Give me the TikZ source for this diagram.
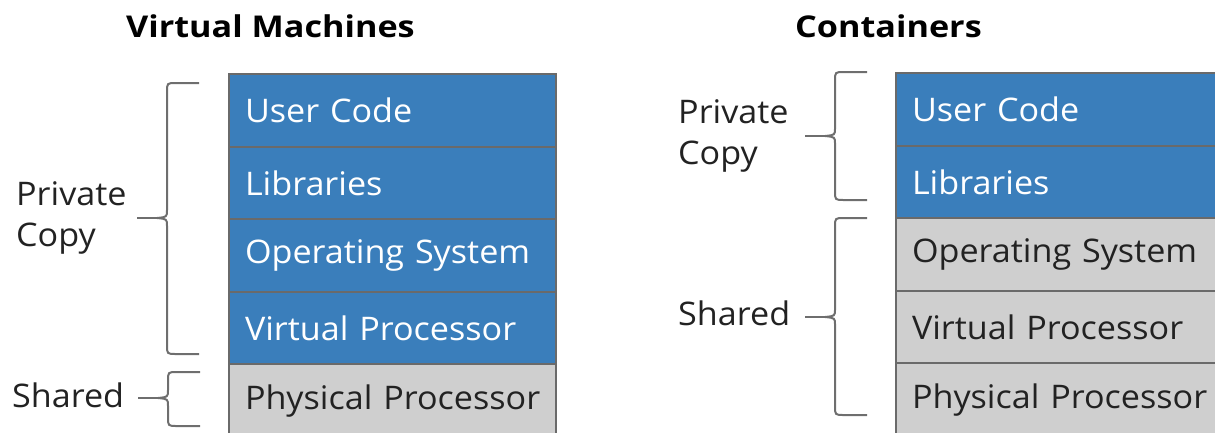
\documentclass[tikz,border=0pt]{standalone}
\usepackage{fontspec}
\setmainfont{Open Sans}[FakeStretch=1.05]
\newfontfamily\ttlfont{Open Sans}[FakeStretch=1.14]
\definecolor{blu}{HTML}{3A7EBB}
\definecolor{gry}{HTML}{CFCFCF}
\definecolor{edgec}{HTML}{6A6A6A}
\definecolor{brc}{HTML}{6E6E6E}
\definecolor{txt}{HTML}{222222}
\newcommand\mybrace[4]{%
  \draw[braceline] ({#1+32},#2) -- ({#1+9},#2) .. controls (#1,#2) .. (#1,{#2+9}) -- (#1,{#4-8}) .. controls (#1,{#4-1}) .. ({#1-10},#4);
  \draw[braceline] ({#1+32},#3) -- ({#1+9},#3) .. controls (#1,#3) .. (#1,{#3-9}) -- (#1,{#4+8}) .. controls (#1,{#4+1}) .. ({#1-10},#4);
  \draw[braceline] ({#1-10},#4) -- ({#1-30},#4);
}
\begin{document}
\begin{tikzpicture}[x=1pt,y=-1pt,
  layer/.style={draw=edgec, line width=2pt, anchor=north west, minimum height=72.6pt,
    text width=295pt, inner xsep=16pt, inner ysep=0pt, align=left,
    font=\fontsize{32.5}{38}\selectfont},
  bluebox/.style={layer, fill=blu, text=white},
  graybox/.style={layer, fill=gry, text=txt},
  lbl/.style={inner sep=0pt, align=left, text=txt, font=\fontsize{32.5}{41.5}\selectfont},
  ttl/.style={inner sep=0pt, anchor=base west, text=black, font=\fontsize{30}{36}\ttlfont\bfseries},
  braceline/.style={draw=brc, line width=2pt}]
\useasboundingbox (0,0) rectangle (1215,432);
\clip (0,0) rectangle (1215,432);
% titles
\node[ttl] (t1) at (126,37) {Virtual Machines};
\node[ttl] (t2) at (795,37) {Containers};
% left stack
\node[bluebox] (l1) at (228,73) {\mbox{User Code}};
\node[bluebox] (l2) at (228,145.6) {\mbox{Libraries}};
\node[bluebox] (l3) at (228,218.2) {\mbox{Operating System}};
\node[bluebox] (l4) at (228,290.8) {\mbox{Virtual Processor}};
\node[graybox] (l5) at (228,363.4) {\mbox{Physical Processor}};
% right stack
\node[bluebox] (r1) at (895,72) {\mbox{User Code}};
\node[bluebox] (r2) at (895,144.6) {\mbox{Libraries}};
\node[graybox] (r3) at (895,217.2) {\mbox{Operating System}};
\node[graybox] (r4) at (895,289.8) {\mbox{Virtual Processor}};
\node[graybox] (r5) at (895,362.4) {\mbox{Physical Processor}};
% braces
\mybrace{167}{83}{354}{218}
\mybrace{168}{372}{426}{398}
\mybrace{835}{72}{200}{136}
\mybrace{835}{218}{415}{317}
% labels
\node[lbl, anchor=west] (pl) at (16,218) {Private\\Copy};
\node[lbl, anchor=base west] (sl) at (12,407) {Shared};
\node[lbl, anchor=west] (pr) at (678,136) {Private\\Copy};
\node[lbl, anchor=base west] (sr) at (678,325) {Shared};
\end{tikzpicture}
\end{document}
